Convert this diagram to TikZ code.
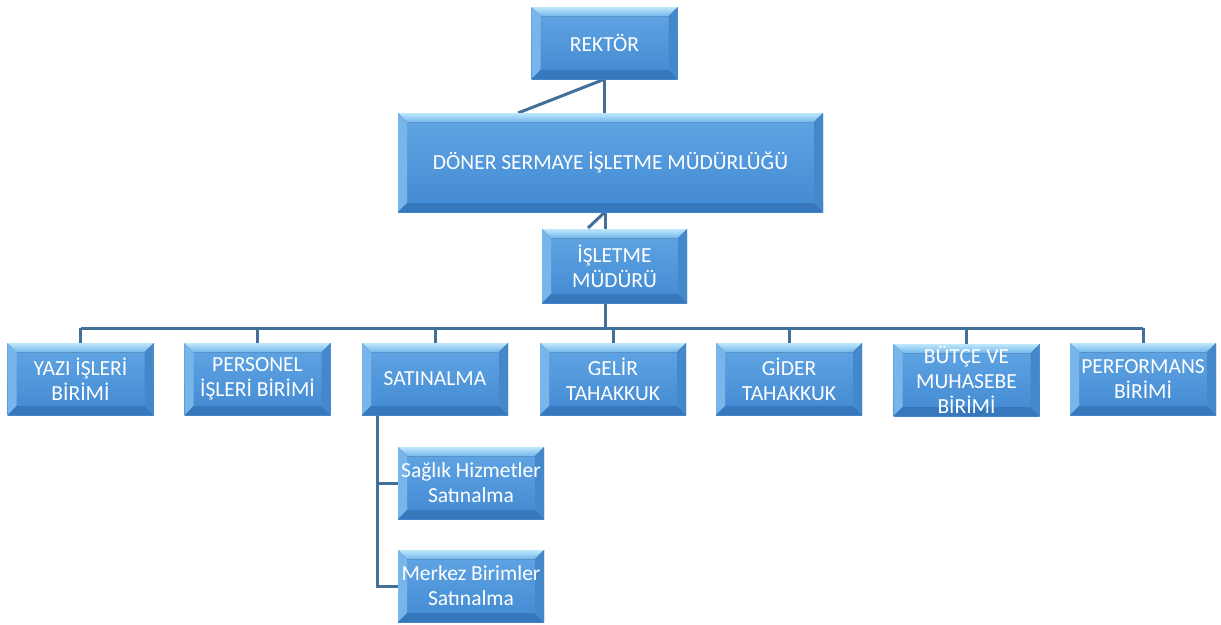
\documentclass[tikz,border=0pt]{standalone}
\usepackage{fontspec}
\setmainfont{Carlito}
\usetikzlibrary{calc}
\pgfdeclarelayer{bg}
\pgfsetlayers{bg,main}
\definecolor{faceTop}{HTML}{62A6E4}
\definecolor{faceBot}{HTML}{4189D2}
\definecolor{bevTopA}{HTML}{BDE8FB}
\definecolor{bevTopB}{HTML}{75B6EC}
\definecolor{bevLeft}{HTML}{78B5EA}
\definecolor{bevBot}{HTML}{3777BC}
\definecolor{bevRight}{HTML}{4587CB}
\definecolor{linkC}{HTML}{42709B}
\tikzset{
  bevelbox/.style={
    minimum width=146pt, minimum height=72pt, inner sep=0pt,
    align=center, text=white,
    font=\fontsize{21.5}{25}\selectfont,
    path picture={
      \coordinate (nw) at (path picture bounding box.north west);
      \coordinate (ne) at (path picture bounding box.north east);
      \coordinate (sw) at (path picture bounding box.south west);
      \coordinate (se) at (path picture bounding box.south east);
      \fill[top color=faceTop, bottom color=faceBot] (nw) rectangle (se);
      \fill[top color=bevTopA, bottom color=bevTopB] (nw) -- (ne) -- ($(ne)+(-9pt,-9pt)$) -- ($(nw)+(9pt,-9pt)$) -- cycle;
      \fill[bevLeft] (nw) -- ($(nw)+(9pt,-9pt)$) -- ($(sw)+(9pt,9pt)$) -- (sw) -- cycle;
      \fill[bevBot] (sw) -- (se) -- ($(se)+(-9pt,9pt)$) -- ($(sw)+(9pt,9pt)$) -- cycle;
      \fill[bevRight] (ne) -- (se) -- ($(se)+(-9pt,9pt)$) -- ($(ne)+(-9pt,-9pt)$) -- cycle;
    }
  },
  link/.style={draw=linkC, line width=3pt}
}
\begin{document}
\begin{tikzpicture}[x=1pt,y=-1pt]
\useasboundingbox (0,0) rectangle (1221,624);
% top hierarchy
\node[bevelbox] (rek) at (604.5,43) {REKTÖR};
\node[bevelbox, minimum width=425pt, minimum height=99pt] (don) at (610.5,162.5) {DÖNER SERMAYE İŞLETME MÜDÜRLÜĞÜ};
\node[bevelbox, minimum width=145pt, minimum height=74pt] (isl) at (614.5,266) {İŞLETME\\MÜDÜRÜ};
% units
\node[bevelbox] (yaz) at (80.5,379) {YAZI İŞLERİ\\BİRİMİ};
\node[bevelbox] (per) at (257.5,379) {PERSONEL\\İŞLERİ BİRİMİ};
\node[bevelbox] (sat) at (435,379) {SATINALMA};
\node[bevelbox] (gel) at (613,379) {GELİR\\TAHAKKUK};
\node[bevelbox] (gid) at (789,379) {GİDER\\TAHAKKUK};
\node[bevelbox] (but) at (966.5,380) {BÜTÇE VE\\MUHASEBE\\BİRİMİ};
\node[bevelbox] (prf) at (1143,379) {PERFORMANS\\BİRİMİ};
% sub units
\node[bevelbox] (sag) at (471,483) {Sağlık Hizmetler\\Satınalma};
\node[bevelbox] (mer) at (471,586) {Merkez Birimler\\Satınalma};
% connector points
\coordinate (d1) at (518,113);
\coordinate (d2) at (588,228);
\coordinate (trunk) at (605,212);
\coordinate (busL) at (80.5,328);
\coordinate (busR) at (1143,328);
\coordinate (sv) at (377,415);
\begin{pgfonlayer}{bg}
\draw[link] (rek.south) -- (rek.south |- don.north);
\draw[link] (rek.south) -- (d1);
\draw[link] (trunk) -- (trunk |- isl.north);
\draw[link] (trunk) -- (d2);
\draw[link] (trunk |- isl.south) -- (trunk |- busL);
\draw[link] (busL) -- (busR);
\foreach \n in {yaz,per,sat,gel,gid,but,prf}
  \draw[link] (\n.north) -- (\n.north |- busL);
\draw[link] (sv) |- (mer.west);
\draw[link] (sv |- sag.west) -- (sag.west);
\end{pgfonlayer}
\end{tikzpicture}
\end{document}
